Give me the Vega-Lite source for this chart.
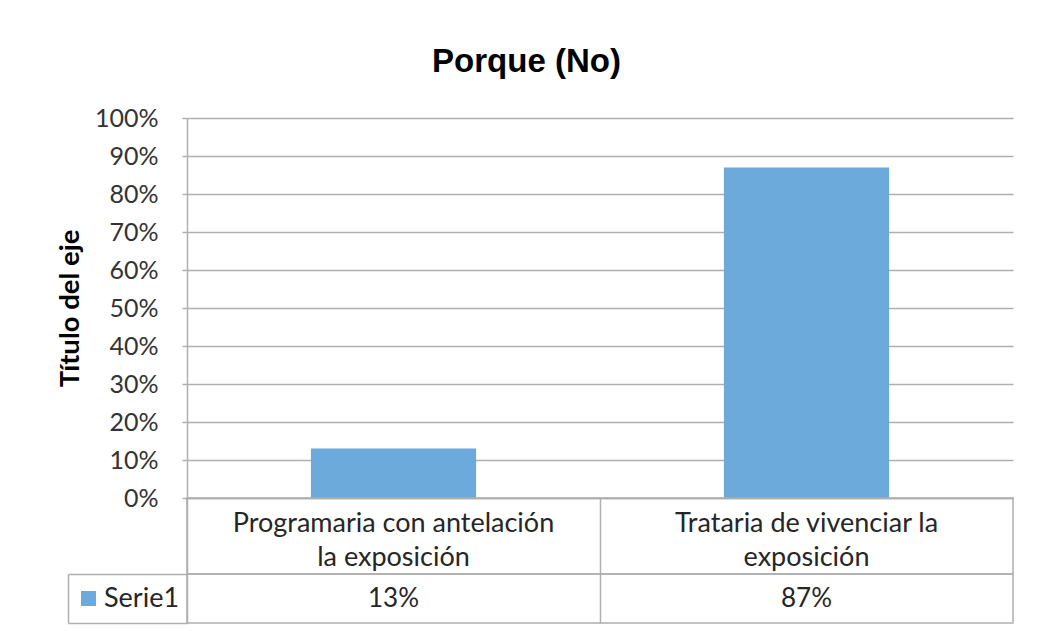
{
  "$schema": "https://vega.github.io/schema/vega-lite/v6.json",
  "padding": {"left": 56, "top": 46, "right": 5, "bottom": 5},
  "background": "white",
  "config": {"font": "Lato", "view": {"stroke": null}},
  "spacing": 0,
  "bounds": "flush",
  "resolve": {"legend": {"color": "independent"}},
  "datasets": {
    "bars": [
      {"categoria": "Programaria con antelación la exposición", "etiqueta": "Programaria con antelación\nla exposición", "serie": "Serie1", "valor": 0.13},
      {"categoria": "Trataria de vivenciar la exposición", "etiqueta": "Trataria de vivenciar la\nexposición", "serie": "Serie1", "valor": 0.87}
    ]
  },
  "vconcat": [
    {
      "data": {"name": "bars"},
      "width": 826,
      "height": 380,
      "title": {"text": "Porque (No)", "font": "Liberation Sans", "fontSize": 33, "fontWeight": "bold", "color": "#000000", "dx": -73.5, "offset": 1, "baseline": "alphabetic"},
      "mark": {"type": "bar"},
      "encoding": {
        "x": {"field": "categoria", "type": "nominal", "sort": null,
          "scale": {"paddingInner": 0.6, "paddingOuter": 0.3},
          "axis": {"labels": false, "ticks": false, "title": null, "domain": true, "domainColor": "#AFAFAF", "domainWidth": 1.5}},
        "y": {"field": "valor", "type": "quantitative",
          "scale": {"domain": [0, 1], "nice": false},
          "axis": {"values": [0, 0.1, 0.2, 0.3, 0.4, 0.5, 0.6, 0.7, 0.8, 0.9, 1], "format": ".0%",
            "title": "Título del eje", "titleFont": "Lato", "titleFontSize": 27.5, "titleFontWeight": "bold", "titleColor": "#000000", "titlePadding": 10,
            "labelFont": "Lato", "labelFontSize": 25, "labelColor": "#333333", "labelPadding": 24,
            "tickSize": 5, "tickColor": "#AFAFAF", "tickWidth": 1.5,
            "domain": true, "domainColor": "#AFAFAF", "domainWidth": 1.5,
            "grid": true, "gridColor": "#AFAFAF", "gridWidth": 1.5}},
        "color": {"field": "serie", "type": "nominal",
          "scale": {"range": ["#6BAADB"]},
          "legend": {"orient": "none", "legendX": -112, "legendY": 467, "title": null, "symbolType": "square", "symbolSize": 225, "symbolStrokeWidth": 0,
            "labelFont": "Lato", "labelFontSize": 27, "labelColor": "#262626", "labelOffset": 2}}
      }
    },
    {
      "data": {"name": "bars"},
      "width": 826,
      "height": 76,
      "view": {"stroke": "#AFAFAF", "strokeWidth": 1.5},
      "mark": {"type": "text", "lineBreak": "\n", "fontSize": 27, "color": "#262626", "lineHeight": 34, "dy": -12},
      "encoding": {
        "x": {"field": "categoria", "type": "nominal", "sort": null,
          "scale": {"type": "band", "paddingInner": 0, "paddingOuter": 0},
          "axis": {"labels": false, "ticks": false, "domain": false, "title": null, "grid": true, "bandPosition": 0, "gridColor": "#AFAFAF", "gridWidth": 1.5}},
        "text": {"field": "etiqueta", "type": "nominal"}
      }
    },
    {
      "data": {"name": "bars"},
      "width": 826,
      "height": 49,
      "view": {"stroke": "#AFAFAF", "strokeWidth": 1.5},
      "mark": {"type": "text", "fontSize": 26, "color": "#262626"},
      "encoding": {
        "x": {"field": "categoria", "type": "nominal", "sort": null,
          "scale": {"type": "band", "paddingInner": 0, "paddingOuter": 0},
          "axis": {"labels": false, "ticks": false, "domain": false, "title": null, "grid": true, "bandPosition": 0, "gridColor": "#AFAFAF", "gridWidth": 1.5}},
        "y": {"field": "serie", "type": "nominal",
          "scale": {"type": "band", "paddingInner": 0, "paddingOuter": 0},
          "axis": {"title": null, "labels": false, "offset": 119,
            "domain": true, "domainColor": "#AFAFAF", "domainWidth": 1.5,
            "ticks": true, "tickBand": "extent", "tickSize": -119, "tickColor": "#AFAFAF", "tickWidth": 1.5}},
        "text": {"field": "valor", "type": "quantitative", "format": ".0%"}
      }
    }
  ]
}
